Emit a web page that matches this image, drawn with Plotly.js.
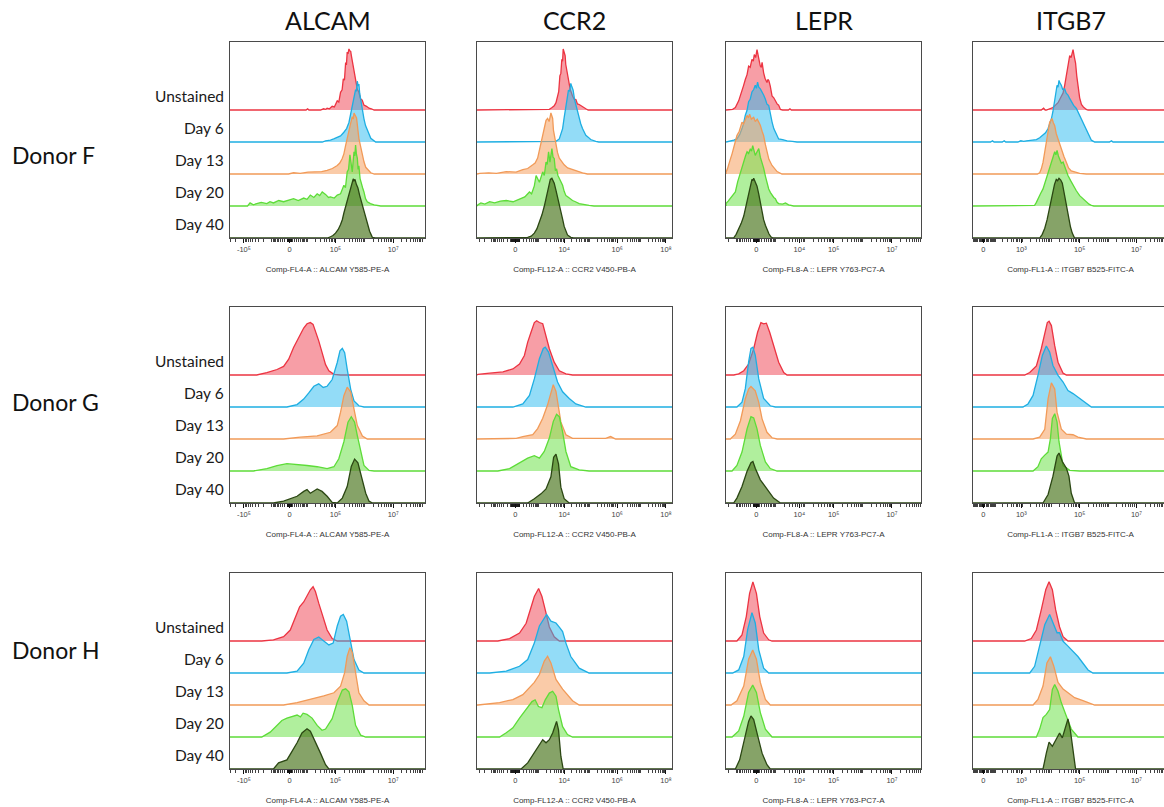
<!DOCTYPE html>
<html>
<head>
<meta charset="utf-8">
<script src="https://cdn.plot.ly/plotly-3.0.1.min.js"></script>
<style>
  html, body { margin: 0; padding: 0; overflow: hidden; background: #fff; }
  #chart { width: 1180px; height: 807px; }
</style>
</head>
<body>
<div id="chart"></div>
<script>
// ---- labels ----
const MARKERS = ['ALCAM', 'CCR2', 'LEPR', 'ITGB7'];
const DONORS = ['Donor F', 'Donor G', 'Donor H'];
const SAMPLES = ['Unstained', 'Day 6', 'Day 13', 'Day 20', 'Day 40'];
const AXIS_TITLES = [
  'Comp-FL4-A :: ALCAM Y585-PE-A',
  'Comp-FL12-A :: CCR2 V450-PB-A',
  'Comp-FL8-A :: LEPR Y763-PC7-A',
  'Comp-FL1-A :: ITGB7 B525-FITC-A'
];
const TICK_TEXT = [
  ['-10⁵', '0', '10⁵', '10⁷'],
  ['0', '10⁴', '10⁶', '10⁸'],
  ['0', '10⁴', '10⁵', '10⁷'],
  ['0', '10³', '10⁵', '10⁷']
];
// display channel (0-1000) of each labelled tick
const TICK_CHANNEL = [
  [71, 306, 541, 837],
  [197, 447, 719, 969],
  [155, 376, 552, 851],
  [53, 248, 547, 838]
];

// ---- histograms: [display channel, % of mode], one list per sample ----
// Donor F
const ALCAM_F = [
  [[300,0],[310,1],[320,0],[390,0],[398,2],[405,0],[464,0],[480,2],[490,1],[498,3],[510,2],[524,6],[535,5],[550,15],[558,13],[567,29],[575,33],[581,51],[587,49],[593,78],[597,74],[601,95],[605,92],[610,100],[614,97],[619,96],[623,88],[627,81],[631,70],[636,59],[644,50],[653,34],[660,30],[670,18],[678,16],[687,8],[700,6],[713,3],[725,2],[739,0]],
  [[473,0],[490,2],[515,3],[532,5],[550,8],[567,10],[584,16],[598,22],[610,32],[618,45],[627,54],[635,72],[644,86],[648,83],[653,100],[657,92],[661,95],[665,80],[670,70],[678,50],[687,38],[695,27],[704,19],[713,11],[722,6],[747,0]],
  [[300,0],[326,2],[360,1],[400,3],[430,3],[470,4],[498,6],[525,9],[550,14],[563,18],[575,25],[584,33],[593,47],[601,60],[610,72],[618,82],[627,94],[632,90],[636,100],[642,95],[649,92],[655,75],[661,58],[670,45],[678,31],[687,20],[696,11],[709,6],[722,2],[740,0]],
  [[90,0],[103,5],[120,2],[137,4],[160,6],[189,4],[205,7],[223,5],[250,9],[275,7],[300,10],[326,12],[350,9],[378,13],[395,11],[412,18],[430,14],[447,20],[460,17],[473,23],[490,19],[505,14],[515,15],[535,13],[550,18],[567,20],[584,34],[592,30],[601,56],[608,60],[615,84],[621,72],[627,56],[632,75],[636,89],[640,82],[644,100],[648,86],[653,78],[657,60],[661,66],[667,45],[674,34],[680,30],[687,23],[695,12],[704,7],[720,4],[739,2],[773,0]],
  [[500,0],[515,2],[528,4],[541,8],[555,14],[567,22],[576,30],[584,41],[592,50],[601,60],[610,70],[619,79],[626,90],[632,97],[636,94],[641,96],[648,88],[656,82],[665,70],[674,60],[685,46],[696,33],[706,21],[716,11],[730,1],[745,0]]
];
const CCR2_F = [
  [[250,0],[255,1],[262,0],[330,0],[345,1],[360,0],[371,1],[385,4],[396,7],[405,12],[413,23],[419,30],[425,56],[430,60],[435,83],[439,80],[442,100],[447,94],[452,89],[455,75],[459,67],[464,58],[469,45],[478,34],[490,23],[498,18],[507,17],[515,10],[524,9],[540,5],[558,2],[570,0]],
  [[400,0],[405,1],[422,5],[430,12],[439,22],[447,40],[456,60],[462,74],[469,85],[475,83],[481,96],[487,90],[493,85],[500,70],[507,60],[515,50],[524,38],[532,30],[541,22],[550,17],[558,11],[570,8],[583,4],[609,1],[625,0]],
  [[14,1],[60,2],[100,1],[150,4],[200,3],[235,7],[260,9],[286,15],[298,18],[311,26],[320,40],[328,48],[337,68],[345,75],[354,88],[362,91],[370,86],[379,100],[384,95],[388,91],[392,72],[396,64],[400,62],[405,53],[413,35],[422,26],[435,20],[447,15],[465,10],[490,7],[515,4],[541,2],[566,0]],
  [[5,2],[20,5],[40,3],[65,7],[90,5],[120,8],[150,9],[185,7],[218,12],[245,15],[269,23],[280,20],[294,33],[303,50],[320,39],[337,56],[345,50],[354,72],[360,68],[367,89],[374,72],[384,94],[390,80],[396,78],[402,58],[408,61],[415,50],[422,45],[430,40],[439,34],[447,24],[456,17],[470,14],[490,9],[505,7],[524,4],[575,1],[600,0]],
  [[250,0],[260,1],[278,3],[294,8],[307,15],[320,25],[333,38],[345,52],[354,66],[362,79],[370,88],[376,96],[384,98],[390,93],[396,90],[405,78],[413,68],[422,55],[430,44],[439,31],[447,19],[456,11],[464,5],[481,1],[495,0]]
];
const LEPR_F = [
  [[30,0],[34,1],[48,4],[56,9],[65,15],[74,24],[82,34],[90,40],[99,50],[108,58],[116,72],[124,70],[133,83],[140,80],[145,91],[152,86],[159,99],[164,92],[168,89],[172,78],[176,72],[181,70],[185,78],[189,66],[193,61],[200,52],[205,48],[210,45],[215,50],[220,48],[227,39],[236,23],[245,20],[253,15],[262,10],[270,8],[279,1],[290,0],[320,0],[328,2],[335,0]],
  [[22,1],[40,3],[56,5],[70,12],[82,22],[90,30],[99,44],[108,52],[116,66],[124,70],[133,82],[142,86],[150,93],[156,88],[162,98],[168,90],[176,87],[185,82],[193,77],[202,70],[210,62],[219,60],[227,46],[236,33],[245,22],[253,16],[262,10],[270,5],[290,4],[313,2],[340,1],[364,0]],
  [[0,3],[7,8],[14,14],[22,24],[31,33],[44,48],[56,63],[68,70],[82,85],[90,82],[99,90],[108,96],[115,92],[121,98],[130,90],[142,93],[150,86],[160,90],[168,85],[176,80],[185,70],[193,63],[202,48],[210,36],[220,24],[236,14],[250,8],[262,4],[287,0]],
  [[0,4],[11,8],[22,12],[35,18],[48,23],[60,40],[74,56],[82,62],[91,72],[100,82],[108,89],[116,86],[125,94],[131,90],[137,99],[143,90],[150,83],[158,88],[168,94],[176,80],[185,72],[193,62],[202,49],[210,38],[219,28],[228,22],[236,17],[245,14],[253,12],[262,6],[270,4],[290,3],[305,5],[321,2],[347,0]],
  [[39,0],[52,6],[65,14],[78,24],[91,36],[104,55],[116,74],[125,86],[133,96],[138,94],[142,98],[150,92],[159,85],[168,72],[176,57],[185,42],[193,30],[202,21],[210,14],[220,7],[230,2],[240,0]]
];
const ITGB7_F = [
  [[350,0],[362,3],[370,0],[376,0],[392,2],[410,4],[423,8],[436,12],[449,20],[462,28],[470,40],[479,56],[487,70],[496,89],[503,86],[508,95],[513,99],[519,88],[526,77],[532,56],[538,39],[547,20],[556,9],[566,5],[581,1],[590,0]],
  [[90,0],[100,2],[108,0],[150,0],[160,2],[168,0],[230,0],[245,2],[260,1],[274,2],[300,3],[325,4],[342,7],[359,11],[372,15],[385,22],[394,30],[402,38],[410,50],[419,66],[425,80],[431,93],[436,90],[441,101],[447,96],[453,93],[460,86],[470,87],[478,80],[487,77],[495,72],[504,66],[516,60],[530,55],[543,46],[556,38],[568,30],[581,22],[595,10],[607,3],[624,0],[700,0],[710,2],[718,0]],
  [[330,0],[342,2],[350,8],[359,19],[368,38],[376,57],[385,72],[393,85],[399,88],[405,91],[412,84],[419,79],[427,66],[436,57],[444,49],[453,41],[466,29],[479,19],[490,10],[504,5],[525,3],[547,1],[581,0]],
  [[300,0],[316,1],[325,6],[333,12],[346,20],[359,28],[372,42],[385,56],[394,64],[402,72],[410,80],[419,89],[425,84],[431,91],[438,82],[444,78],[453,70],[462,72],[475,60],[487,50],[500,42],[513,34],[530,25],[547,17],[564,12],[581,7],[595,3],[607,1],[620,0]],
  [[342,0],[355,6],[368,16],[380,30],[390,46],[400,62],[410,79],[418,88],[427,96],[434,94],[441,98],[450,95],[458,90],[466,76],[475,63],[484,46],[492,30],[500,18],[509,8],[521,0]]
];
// Donor G
const ALCAM_G = [
  [[137,0],[189,4],[241,9],[275,14],[301,26],[326,45],[344,56],[361,64],[378,77],[395,84],[412,86],[426,83],[438,72],[455,56],[472,37],[490,17],[507,7],[533,1],[567,0]],
  [[292,0],[344,4],[378,13],[404,23],[430,34],[455,38],[478,32],[498,34],[524,45],[550,73],[564,92],[576,96],[588,89],[601,62],[619,29],[636,10],[661,2],[687,0]],
  [[275,0],[361,3],[447,5],[515,11],[550,22],[567,44],[584,71],[601,85],[619,77],[636,49],[653,22],[679,5],[704,0]],
  [[120,0],[189,4],[241,9],[292,12],[344,11],[395,9],[447,7],[498,4],[533,7],[558,20],[584,48],[605,80],[622,89],[639,80],[653,58],[670,31],[687,9],[713,1],[739,0]],
  [[223,0],[275,3],[318,8],[344,11],[378,19],[395,22],[412,16],[430,19],[447,23],[472,19],[498,11],[524,1],[550,0],[576,8],[601,27],[622,60],[639,72],[656,66],[679,38],[696,16],[713,3],[730,0]]
];
const CCR2_G = [
  [[5,1],[65,3],[133,5],[184,10],[218,18],[243,32],[260,54],[277,70],[294,86],[306,89],[320,86],[337,84],[354,64],[371,43],[396,21],[422,7],[456,2],[490,0]],
  [[184,0],[235,5],[269,19],[294,46],[320,79],[340,96],[350,98],[367,90],[388,68],[413,41],[439,25],[473,14],[507,5],[558,0]],
  [[201,1],[235,4],[286,7],[311,17],[337,34],[362,56],[379,78],[391,89],[405,78],[418,50],[430,28],[456,7],[490,1],[660,1],[685,4],[711,0]],
  [[107,0],[167,4],[218,13],[260,21],[294,25],[320,21],[345,32],[371,54],[391,81],[408,93],[422,89],[439,64],[456,32],[481,7],[524,2],[575,0]],
  [[260,0],[294,7],[328,15],[354,23],[379,43],[393,75],[405,80],[418,64],[430,26],[447,7],[473,0]]
];
const LEPR_G = [
  [[40,0],[65,2],[91,7],[116,18],[142,43],[162,70],[179,86],[193,84],[207,85],[224,70],[244,48],[270,21],[296,4],[313,0]],
  [[56,0],[82,8],[99,30],[116,74],[128,96],[138,98],[150,85],[168,46],[193,14],[227,2],[253,0]],
  [[22,0],[48,8],[74,30],[99,66],[116,82],[128,86],[150,79],[168,60],[185,33],[210,11],[236,2],[262,0]],
  [[31,0],[56,9],[82,31],[108,69],[128,89],[142,87],[159,69],[176,42],[202,15],[227,4],[262,0]],
  [[39,0],[56,8],[82,27],[108,52],[128,66],[138,68],[150,57],[176,38],[210,22],[244,8],[279,0]]
];
const ITGB7_G = [
  [[265,0],[291,4],[325,15],[350,43],[368,70],[381,86],[390,88],[402,81],[419,48],[436,21],[462,3],[479,0]],
  [[256,0],[282,5],[308,19],[333,52],[356,85],[376,100],[393,90],[410,68],[436,52],[462,41],[487,27],[513,22],[547,14],[581,5],[607,0]],
  [[308,0],[342,3],[368,16],[385,66],[402,92],[419,82],[431,44],[453,16],[479,8],[513,7],[538,3],[581,0]],
  [[308,0],[333,7],[350,20],[368,26],[385,31],[397,53],[407,86],[419,94],[431,80],[441,48],[462,9],[496,1],[547,0]],
  [[359,0],[385,14],[410,44],[431,77],[441,82],[458,68],[479,57],[492,44],[504,16],[521,0]]
];
// Donor H
const ALCAM_H = [
  [[163,0],[223,2],[275,7],[309,18],[335,37],[357,56],[378,64],[395,73],[412,84],[426,89],[438,81],[455,62],[472,43],[498,18],[524,4],[550,0]],
  [[292,0],[344,3],[378,16],[404,38],[430,55],[455,59],[481,52],[507,46],[529,49],[550,77],[567,93],[581,96],[598,85],[615,55],[636,22],[661,5],[687,0]],
  [[275,0],[344,4],[412,9],[481,15],[533,20],[567,31],[588,53],[601,80],[615,94],[627,86],[644,53],[661,20],[687,7],[713,0]],
  [[163,0],[206,8],[241,19],[266,27],[292,31],[318,33],[344,36],[361,33],[375,39],[395,37],[421,31],[447,19],[472,11],[490,13],[524,30],[550,57],[576,77],[593,79],[610,74],[627,52],[644,19],[670,3],[696,0]],
  [[223,0],[249,10],[275,13],[292,15],[318,29],[344,43],[369,59],[395,66],[412,62],[438,45],[464,26],[490,7],[507,0]]
];
const CCR2_H = [
  [[107,0],[167,4],[218,13],[252,29],[272,51],[294,73],[316,86],[333,73],[350,51],[371,23],[396,7],[422,0]],
  [[65,0],[150,3],[218,11],[260,22],[294,49],[320,77],[345,90],[357,96],[379,85],[405,82],[425,74],[439,68],[456,49],[481,27],[524,8],[575,0]],
  [[5,0],[116,4],[184,9],[235,17],[269,28],[294,37],[320,50],[345,72],[362,80],[379,69],[405,42],[439,26],[490,7],[524,0]],
  [[116,0],[150,7],[184,15],[218,31],[252,45],[282,58],[298,61],[315,50],[333,48],[350,61],[371,72],[388,75],[405,67],[418,45],[439,17],[464,4],[490,0]],
  [[226,0],[260,10],[294,26],[320,40],[337,48],[354,43],[371,48],[388,59],[400,73],[408,78],[418,64],[430,21],[442,0]]
];
const LEPR_H = [
  [[56,0],[82,10],[104,40],[121,78],[138,97],[156,78],[173,40],[193,13],[219,2],[236,0]],
  [[34,0],[65,5],[91,27],[111,71],[133,99],[150,82],[168,38],[193,8],[219,0]],
  [[26,0],[56,7],[91,31],[116,75],[137,90],[156,75],[176,37],[202,9],[227,0]],
  [[31,0],[65,10],[91,34],[116,73],[137,85],[156,73],[176,40],[202,13],[236,0]],
  [[48,0],[70,15],[94,48],[116,78],[128,87],[142,81],[162,55],[185,26],[210,7],[227,0]]
];
const ITGB7_H = [
  [[265,0],[299,4],[325,18],[350,51],[373,84],[390,97],[407,84],[424,51],[444,23],[462,7],[487,0]],
  [[291,0],[316,11],[342,44],[368,79],[393,96],[414,79],[431,66],[444,66],[462,52],[487,44],[513,36],[538,27],[564,16],[590,5],[615,0]],
  [[308,0],[333,9],[359,31],[379,69],[397,79],[414,64],[436,37],[462,26],[487,20],[521,12],[564,7],[590,4],[624,0]],
  [[325,0],[342,13],[359,32],[376,37],[393,45],[407,78],[419,86],[436,75],[453,56],[479,34],[504,13],[538,0]],
  [[359,0],[376,26],[390,44],[407,37],[424,48],[444,59],[458,51],[475,70],[487,82],[499,64],[513,26],[526,0]]
];

const PANELS = [
  [ALCAM_F, CCR2_F, LEPR_F, ITGB7_F],
  [ALCAM_G, CCR2_G, LEPR_G, ITGB7_G],
  [ALCAM_H, CCR2_H, LEPR_H, ITGB7_H]
];

// ---- styling ----
const LINE_COLORS = ['#ec3442', '#1eaee2', '#f19a58', '#5ddc38', '#2b4713'];
const FILL_COLORS = ['rgba(240,62,78,0.5)', 'rgba(40,186,240,0.5)', 'rgba(246,160,96,0.55)',
                     'rgba(112,226,76,0.55)', 'rgba(72,116,26,0.66)'];
// biexponential display scale per parameter: [channel of zero, channels per decade, linear width]
const SCALES = [[306, 148, 2584], [197, 130.5, 121], [155, 150, 226], [53, 147, 43.6]];

const FIG_W = 1180, FIG_H = 807;
const COL_LEFT = [230, 477, 726, 973];
const ROW_TOP = [42, 307, 573];
const DONOR_Y = [155, 402, 650];
const BOX_W = 195, BOX_H = 196;
const BAND = 32;      // vertical offset between stacked samples (px)
const MODE_PX = 61;   // height of a 100 % mode peak (px)
const FONT = 'Lato, "Open Sans", sans-serif';
const SMALL_FONT = '"Liberation Sans", Arial, "DejaVu Sans", sans-serif';

function toChannel(v, p) {
  return p[0] + p[1] * Math.asinh(v / (2 * p[2])) / Math.LN10;
}

function minorTicks(c) {
  const p = SCALES[c];
  const majors = TICK_CHANNEL[c];
  const out = [];
  for (let k = 0; k <= 8; k++) {
    for (let m = 1; m <= 9; m++) {
      for (const s of [1, -1]) {
        const d = toChannel(s * m * Math.pow(10, k), p);
        if (d < 0 || d > 1000) continue;
        if (majors.some(t => Math.abs(t - d) < 4)) continue;
        out.push(d);
      }
    }
  }
  return out;
}

const traces = [];
const layout = {
  width: FIG_W, height: FIG_H,
  margin: {l: 0, r: 0, t: 0, b: 0},
  paper_bgcolor: '#fff', plot_bgcolor: '#fff',
  showlegend: false,
  annotations: []
};

PANELS.forEach((row, r) => {
  row.forEach((panel, c) => {
    const idx = r * 4 + c + 1;
    const xa = 'x' + idx, ya = 'y' + idx;
    panel.forEach((hist, s) => {
      const level = SAMPLES.length - 1 - s;
      const pts = [[0, 0]].concat(hist, [[1000, 0]]);
      traces.push({
        type: 'scatter', mode: 'lines',
        x: pts.map(q => q[0]),
        y: pts.map(q => level * BAND + q[1] / 100 * MODE_PX),
        xaxis: xa, yaxis: ya,
        fill: 'toself', fillcolor: FILL_COLORS[s],
        line: {color: LINE_COLORS[s], width: 1.3},
        name: SAMPLES[s], hoverinfo: 'skip', showlegend: false
      });
    });
    const x0 = COL_LEFT[c], y0 = ROW_TOP[r];
    layout['xaxis' + idx] = {
      domain: [x0 / FIG_W, (x0 + BOX_W) / FIG_W],
      anchor: ya, range: [0, 1000], fixedrange: true,
      showgrid: false, zeroline: false,
      showline: true, mirror: true, linecolor: '#4a4a4a', linewidth: 1.2,
      ticks: 'outside', ticklen: 4, tickwidth: 1, tickcolor: '#111',
      tickmode: 'array', tickvals: TICK_CHANNEL[c], ticktext: TICK_TEXT[c],
      tickfont: {family: SMALL_FONT, size: 7.5, color: '#444'},
      minor: {tickmode: 'array', tickvals: minorTicks(c), ticks: 'outside',
              ticklen: 2.5, tickwidth: 0.8, tickcolor: '#111', showgrid: false},
      title: {text: AXIS_TITLES[c], standoff: 13,
              font: {family: SMALL_FONT, size: 8, color: '#333'}}
    };
    layout['yaxis' + idx] = {
      domain: [(FIG_H - y0 - BOX_H) / FIG_H, (FIG_H - y0) / FIG_H],
      anchor: xa, range: [0, BOX_H], fixedrange: true,
      showgrid: false, zeroline: false, showticklabels: false, ticks: '',
      showline: true, mirror: true, linecolor: '#4a4a4a', linewidth: 1.2
    };
    if (c === 0) {
      SAMPLES.forEach((name, s) => {
        const level = SAMPLES.length - 1 - s;
        layout.annotations.push({
          text: name, xref: 'paper', yref: ya,
          x: (x0 - 4) / FIG_W, y: level * BAND + 14,
          xanchor: 'right', yanchor: 'middle', showarrow: false,
          font: {family: FONT, size: 15.5, color: '#1a1a1a'}
        });
      });
      layout.annotations.push({
        text: DONORS[r], xref: 'paper', yref: 'paper',
        x: 10 / FIG_W, y: (FIG_H - DONOR_Y[r]) / FIG_H,
        xanchor: 'left', yanchor: 'middle', showarrow: false,
        font: {family: FONT, size: 23, color: '#111'}
      });
    }
  });
});

MARKERS.forEach((m, c) => {
  layout.annotations.push({
    text: m, xref: 'paper', yref: 'paper',
    x: (COL_LEFT[c] + BOX_W / 2) / FIG_W, y: (FIG_H - 20) / FIG_H,
    xanchor: 'center', yanchor: 'middle', showarrow: false,
    font: {family: FONT, size: 25, color: '#111'}
  });
});

Plotly.newPlot('chart', traces, layout, {staticPlot: true, displayModeBar: false});
</script>
</body>
</html>
